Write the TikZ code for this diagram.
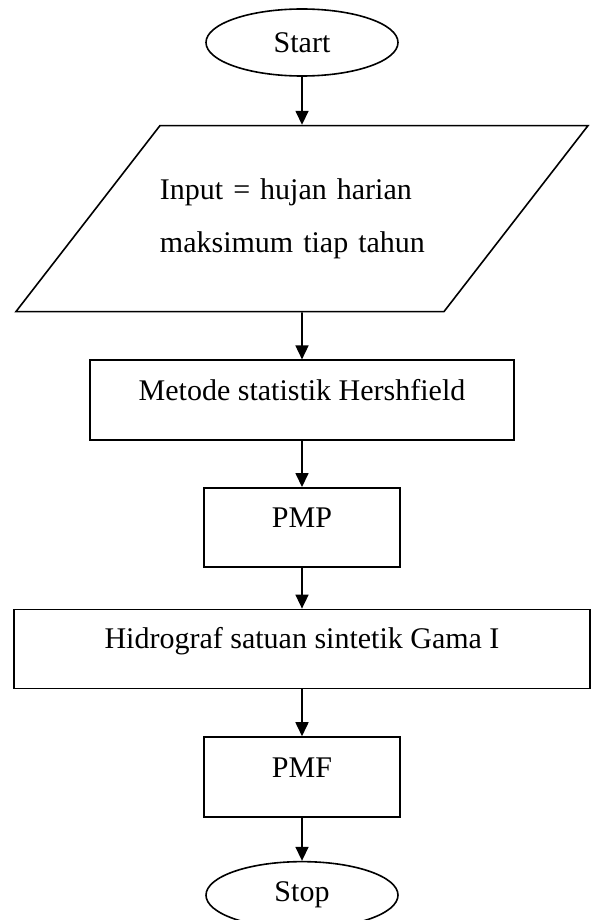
\documentclass[tikz,border=0pt]{standalone}
\usepackage{fontspec}
\setmainfont{Liberation Serif}
\usepackage{tikz}
\usetikzlibrary{shapes.geometric, positioning, arrows.meta}
\tikzset {
    ->,
    >={Triangle[width=6.5pt,length=7pt]},
    node distance=23pt,
    terminal/.style={draw, ellipse, minimum width=96pt, minimum height=33.5pt, inner sep=0pt},
    process/.style={draw, rectangle, minimum height=40pt, text height=10pt, text depth=10pt},
    io/.style={draw, trapezium, trapezium left angle=33, trapezium right angle=147,
        trapezium stretches body, minimum width=285.5pt, minimum height=93pt,
        text width=142pt, inner xsep=0pt, align=left}
}

\begin{document}
\begin{tikzpicture}[line width=0.8pt, font=\fontsize{15pt}{26.5pt}\selectfont]
                            \useasboundingbox (0,0) rectangle (295pt,-460pt);

                            \node[terminal] (start) at (151pt,-21.25pt) {Start};
                            \node[io, below=24pt of start] (input) {Input = hujan harian\\maksimum tiap tahun};
                            \node[process, minimum width=212pt, below=23.5pt of input] (metode) {Metode statistik Hershfield};
                            \node[process, minimum width=98pt, minimum height=39.5pt, below=of metode] (pmp) {PMP};
                            \node[process, minimum width=288pt, minimum height=39.5pt, below=20.5pt of pmp] (hidrograf) {Hidrograf satuan sintetik Gama I};
                            \node[process, minimum width=98pt, below=23.5pt of hidrograf] (pmf) {PMF};
                            \node[terminal, below=21.5pt of pmf] (stop) {Stop};

                            \draw
                            (start) edge (input)
                            (input) edge (metode)
                            (metode) edge (pmp)
                            (pmp) edge (hidrograf)
                            (hidrograf) edge (pmf)
                            (pmf) edge (stop);
                        \end{tikzpicture}
\end{document}
